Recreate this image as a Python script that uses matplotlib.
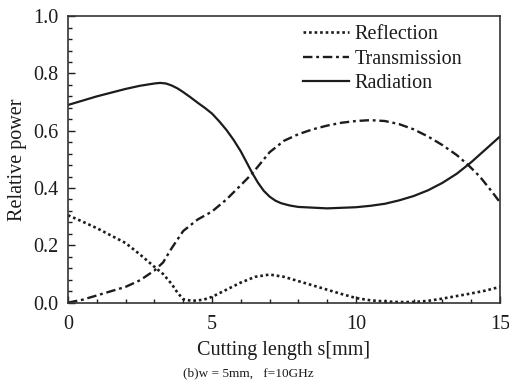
import matplotlib
matplotlib.use("Agg")
import matplotlib.pyplot as plt
from matplotlib.ticker import MultipleLocator

plt.rcParams['font.family'] = ['Liberation Serif', 'DejaVu Serif']

# values
s_rad = [0, 0.5, 1, 1.5, 2, 2.5, 3, 3.2, 3.4, 3.6, 3.8, 4, 4.25, 4.5, 4.75, 5, 5.25,
         5.5, 5.75, 6, 6.2, 6.4, 6.6, 6.8, 7, 7.2, 7.4, 7.7, 8, 9, 10, 10.5, 11,
         11.5, 12, 12.5, 13, 13.5, 14, 14.5, 15]
radiation = [0.69, 0.705, 0.72, 0.733, 0.746, 0.757, 0.765, 0.767, 0.765, 0.758, 0.748,
             0.735, 0.717, 0.698, 0.68, 0.66, 0.633, 0.603, 0.568, 0.528, 0.49, 0.452,
             0.418, 0.39, 0.37, 0.356, 0.347, 0.339, 0.334, 0.329, 0.333, 0.338,
             0.345, 0.357, 0.372, 0.392, 0.418, 0.45, 0.49, 0.535, 0.58]

s_tra = [0, 0.5, 1, 1.5, 2, 2.5, 3, 3.3, 3.6, 4, 4.5, 5, 5.5, 6, 6.4, 7, 7.5, 8, 8.5,
         9, 9.5, 10, 10.5, 11, 11.5, 12, 12.5, 13, 13.5, 13.9, 14.3, 14.7, 15]
transmission = [0.0, 0.01, 0.025, 0.04, 0.055, 0.078, 0.112, 0.14, 0.19, 0.25, 0.29,
                0.318, 0.36, 0.41, 0.451, 0.525, 0.565, 0.588, 0.605, 0.618, 0.628,
                0.634, 0.637, 0.634, 0.623, 0.605, 0.58, 0.55, 0.515, 0.48, 0.44,
                0.39, 0.35]

s_ref = [0, 0.5, 1, 1.5, 2, 2.5, 3, 3.3, 3.6, 3.8, 4, 4.3, 4.7, 5, 5.5, 6, 6.5, 7, 7.5,
         8, 8.5, 9, 9.5, 10, 10.5, 11, 11.5, 12, 12.5, 13, 13.5, 14, 14.5, 15]
reflection = [0.305, 0.283, 0.26, 0.234, 0.208, 0.168, 0.125, 0.1, 0.065, 0.035, 0.012,
              0.006, 0.01, 0.02, 0.045, 0.07, 0.09, 0.098, 0.09, 0.075, 0.06, 0.045,
              0.03, 0.016, 0.008, 0.004, 0.002, 0.002, 0.006, 0.014, 0.023, 0.032,
              0.042, 0.055]

ink = '#1c1c1c'

fig = plt.figure(figsize=(5.09, 3.85), dpi=100)
ax = fig.add_axes([0.1336, 0.214, 0.8487, 0.744])

ax.plot(s_ref, reflection, color=ink, lw=1.9, linestyle=(0, (1, 1.1)), label='Reflection')
ax.plot(s_tra, transmission, color=ink, lw=1.7, linestyle=(0, (4, 1.6, 1.2, 1.6)),
        label='Transmission')
ax.plot(s_rad, radiation, color=ink, lw=1.6, label='Radiation')

ax.set_xlim(0, 15)
ax.set_ylim(0, 1.0)
ax.xaxis.set_major_locator(MultipleLocator(5))
ax.xaxis.set_minor_locator(MultipleLocator(1))
ax.yaxis.set_major_locator(MultipleLocator(0.2))
ax.yaxis.set_minor_locator(MultipleLocator(0.04))
ax.yaxis.set_major_formatter(plt.FormatStrFormatter('%.1f'))
ax.tick_params(which='both', direction='in', top=False, right=False,
               labelsize=14.5, colors=ink)
ax.tick_params(axis='x', pad=9)
ax.tick_params(axis='y', pad=7)
ax.tick_params(which='major', length=5, width=1)
ax.tick_params(which='minor', length=3, width=1)
for sp in ax.spines.values():
    sp.set_color('#333333')
    sp.set_linewidth(1.2)

ax.set_xlabel('Cutting length s[mm]', fontsize=14.5, color=ink, labelpad=5)
ax.set_ylabel('Relative power', fontsize=14.5, color=ink, labelpad=4)

ax.legend(loc='upper left', bbox_to_anchor=(0.544, 0.968), frameon=False,
          fontsize=14.5, handlelength=2.3, handletextpad=0.25, labelspacing=0.25,
          borderpad=0, borderaxespad=0, labelcolor=ink)

fig.text(0.488, 0.031, '(b)w = 5mm,   f=10GHz', fontsize=9.5, color=ink, ha='center',
         va='center')

fig.savefig('out.png', dpi=100)
